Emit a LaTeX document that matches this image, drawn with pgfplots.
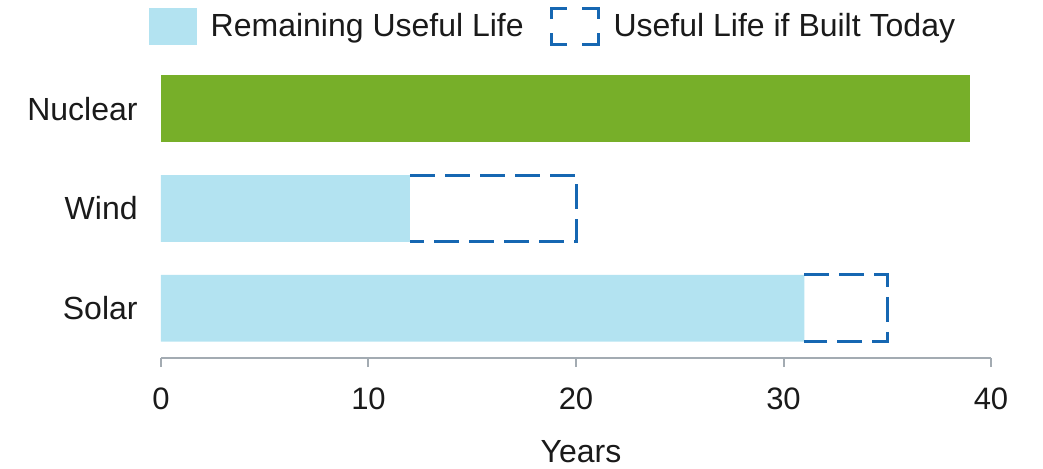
\documentclass[border=0pt]{standalone}
\usepackage{pgfplots}
\pgfplotsset{compat=1.18}
\usepackage{fontspec}
\setmainfont{Liberation Sans}
\definecolor{nucgreen}{HTML}{77AF29}
\definecolor{lightblue}{HTML}{B3E3F1}
\definecolor{dashblue}{HTML}{1667B2}
\definecolor{axisgray}{HTML}{A3ABB2}
\definecolor{txt}{HTML}{1A1A1A}
\begin{document}
\begin{tikzpicture}
\begin{axis}[
  scale only axis, width=415pt, height=149.5pt,
  xmin=0, xmax=40, ymin=-0.5, ymax=2.5,
  axis lines*=left,
  x axis line style={axisgray, line width=1pt},
  y axis line style={draw=none},
  xtick={0,10,20,30,40},
  xtick align=outside,
  x tick style={axisgray, line width=1pt},
  major tick length=4.5pt,
  ytick={0,1,2}, yticklabels={Solar,Wind,Nuclear},
  y tick style={draw=none},
  tick label style={text=txt},
  x tick label style={font=\fontsize{15.5}{18}\selectfont, inner sep=0pt, anchor=north, yshift=-10pt},
  y tick label style={font=\fontsize{16}{19}\selectfont, inner sep=0pt, anchor=east, xshift=-11.5pt},
  /pgf/number format/assume math mode=true,
  xlabel={Years},
  xlabel style={font=\fontsize{16}{19}\selectfont, text=txt, at={(axis description cs:0.506,0)}, anchor=base, yshift=-52pt, inner sep=0pt},
  legend columns=2,
  legend style={draw=none, fill=none, font=\fontsize{16}{19}\selectfont, text=txt,
    at={(0.4735,1.11)}, anchor=center, column sep=5pt,
    /tikz/every even column/.append style={column sep=11pt}},
  legend cell align=left,
]
\addlegendimage{legend image code/.code={\fill[lightblue] (0pt,-9pt) rectangle (23.5pt,9pt);}}
\addlegendentry{Remaining Useful Life}
\addlegendimage{legend image code/.code={
  \draw[dashblue, line width=1.4pt] (0pt,3.5pt) -- (0pt,9pt) -- (8pt,9pt);
  \draw[dashblue, line width=1.4pt] (15.5pt,9pt) -- (23.5pt,9pt) -- (23.5pt,3.5pt);
  \draw[dashblue, line width=1.4pt] (23.5pt,-3.5pt) -- (23.5pt,-9pt) -- (15.5pt,-9pt);
  \draw[dashblue, line width=1.4pt] (8pt,-9pt) -- (0pt,-9pt) -- (0pt,-3.5pt);}}
\addlegendentry{Useful Life if Built Today}

\addplot[xbar, bar width=0.67, bar shift=0pt, fill=nucgreen, draw=none, forget plot] coordinates {(39,2)};
\addplot[xbar, bar width=0.67, bar shift=0pt, fill=lightblue, draw=none, forget plot] coordinates {(12,1) (31,0)};
\addplot[dashblue, line width=1.5pt, dash pattern=on 12.5pt off 5pt, forget plot] coordinates {(12,1.335) (20,1.335) (20,0.665) (12,0.665)};
\addplot[dashblue, line width=1.5pt, dash pattern=on 12.5pt off 5pt, forget plot] coordinates {(31,0.335) (35,0.335) (35,-0.335) (31,-0.335)};
\end{axis}
\path (current axis.south west) ++(-80.5pt,-55pt) rectangle ++(521.5pt,234pt);
\end{tikzpicture}
\end{document}
